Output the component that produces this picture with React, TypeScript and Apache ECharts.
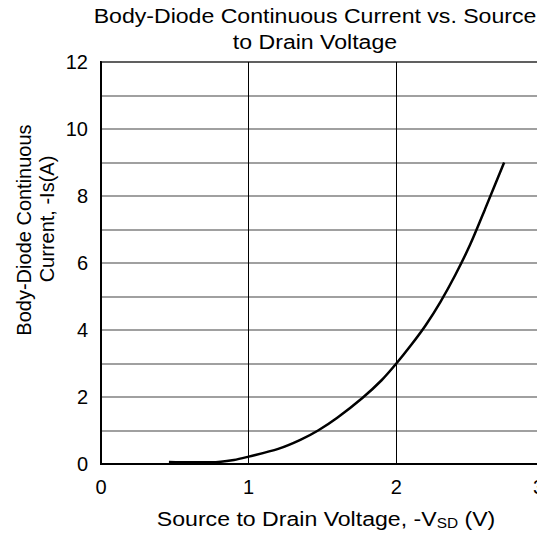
import React, { useEffect, useRef } from "react";
import * as echarts from "echarts";

const voltage = [0.46, 0.6, 0.75, 0.9, 1.0, 1.2, 1.35, 1.47, 1.6, 1.77, 1.9, 2.0, 2.1, 2.2, 2.3, 2.4, 2.5, 2.6, 2.73];
const current = [0.06, 0.05, 0.05, 0.12, 0.22, 0.45, 0.72, 1.0, 1.38, 1.97, 2.5, 3.0, 3.55, 4.15, 4.85, 5.65, 6.55, 7.6, 9.0];
const yTickLabels = ["0", "", "2", "", "4", "", "6", "", "8", "", "10", "", "12"];

const FONT = "'Liberation Sans', Arial, Helvetica, sans-serif";

export default function App() {
  const ref = useRef<HTMLDivElement>(null);
  useEffect(() => {
    if (!ref.current) return;
    const chart = echarts.init(ref.current, null, { renderer: "svg" });
    chart.setOption({
      animation: false,
      backgroundColor: "#fff",
      textStyle: { fontFamily: FONT, color: "#000" },
      graphic: [
        {
          type: "text",
          x: 315,
          y: 3,
          scaleX: 1.1,
          style: {
            text: "Body-Diode Continuous Current vs. Source\nto Drain Voltage",
            font: `21px ${FONT}`,
            fill: "#000",
            textAlign: "center",
            lineHeight: 26,
          },
        },
        {
          type: "text",
          x: 24,
          y: 230,
          rotation: Math.PI / 2,
          style: {
            text: "Body-Diode Continuous",
            font: `20px ${FONT}`,
            fill: "#000",
            textAlign: "center",
            textVerticalAlign: "middle",
          },
        },
        {
          type: "text",
          x: 47,
          y: 219,
          rotation: Math.PI / 2,
          style: {
            text: "Current, -Is(A)",
            font: `20px ${FONT}`,
            fill: "#000",
            textAlign: "center",
            textVerticalAlign: "middle",
          },
        },
        {
          type: "text",
          x: 326,
          y: 519,
          scaleX: 1.1,
          style: {
            text: "Source to Drain Voltage, -V{sub|SD} (V)",
            font: `21px ${FONT}`,
            fill: "#000",
            textAlign: "center",
            textVerticalAlign: "middle",
            rich: {
              sub: { fontSize: 14, fontFamily: FONT, fill: "#000", verticalAlign: "bottom", padding: [9, 0, 0, 0] },
            },
          },
        },
      ],
      grid: {
        left: 101,
        top: 62,
        right: 16,
        bottom: 72,
        show: true,
        borderColor: "#000",
        borderWidth: 2,
      },
      xAxis: {
        type: "value",
        min: 0,
        max: 3,
        interval: 1,
        axisLine: { show: true, lineStyle: { color: "#000", width: 2 } },
        axisTick: { show: false },
        axisLabel: { fontSize: 20, color: "#000", margin: 13, fontFamily: FONT, alignMaxLabel: "right" },
        splitLine: { show: true, lineStyle: { color: "#000", width: 1 } },
      },
      yAxis: {
        type: "value",
        min: 0,
        max: 12,
        interval: 1,
        axisLine: { show: true, lineStyle: { color: "#000", width: 2 } },
        axisTick: { show: false },
        axisLabel: {
          fontSize: 20,
          color: "#000",
          margin: 13,
          fontFamily: FONT,
          formatter: (v: number) => yTickLabels[Math.round(v)] ?? "",
        },
        splitLine: { show: true, lineStyle: { color: "#808080", width: 1.5 } },
      },
      series: [
        {
          type: "line",
          data: voltage.map((v, i) => [v, current[i]]),
          smooth: 0.3,
          showSymbol: false,
          lineStyle: { color: "#000", width: 2.5 },
        },
      ],
    });
    return () => chart.dispose();
  }, []);
  return <div ref={ref} style={{ position: "fixed", left: 0, top: 0, width: 560, height: 536 }} />;
}
